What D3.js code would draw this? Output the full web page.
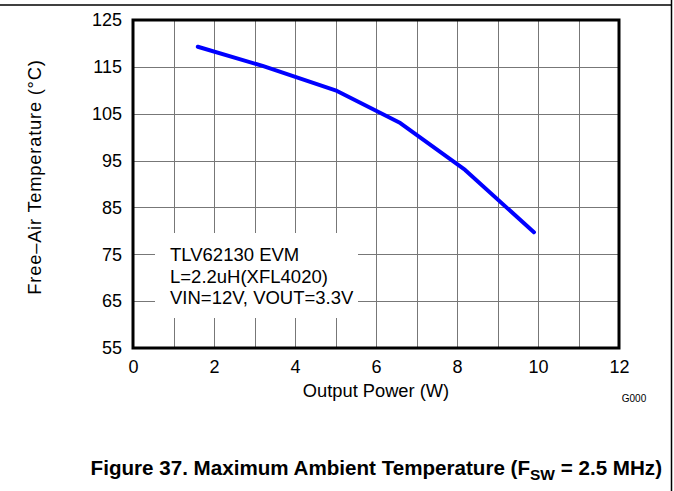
<!DOCTYPE html>
<html>
<head>
<meta charset="utf-8">
<script src="https://cdn.jsdelivr.net/npm/d3@7"></script>
<style>
  html, body { margin: 0; padding: 0; background: #fff; }
  svg { display: block; font-family: "Liberation Sans", Arial, sans-serif; }
</style>
</head>
<body>
<svg id="chart" width="674" height="491"></svg>
<script>
// Output power (W) vs. maximum free-air temperature (°C)
const powerW = [1.6, 3.2, 5.0, 6.6, 8.2, 9.9];
const tempC = [119.3, 115.2, 110.0, 103.0, 93.0, 79.7];
const xTicks = [0, 2, 4, 6, 8, 10, 12];
const yTicks = [55, 65, 75, 85, 95, 105, 115, 125];
const legendLines = ["TLV62130 EVM", "L=2.2uH(XFL4020)", "VIN=12V, VOUT=3.3V"];

const svg = d3.select("#chart");
const W = 674, H = 491;
const m = { left: 133, right: 619, top: 20, bottom: 348 };

const x = d3.scaleLinear().domain([0, 12]).range([m.left, m.right]);
const y = d3.scaleLinear().domain([55, 125]).range([m.bottom, m.top]);

// page frame lines
svg.append("line").attr("x1", 0).attr("x2", 672).attr("y1", 5).attr("y2", 5)
  .attr("stroke", "#000").attr("stroke-width", 1.5);
svg.append("line").attr("x1", 671.5).attr("x2", 671.5).attr("y1", 0).attr("y2", H)
  .attr("stroke", "#000").attr("stroke-width", 1.5);

// grid
const grid = svg.append("g").attr("stroke", "#777").attr("stroke-width", 1);
d3.range(1, 12).forEach(v => {
  grid.append("line").attr("x1", Math.round(x(v)) + 0.5).attr("x2", Math.round(x(v)) + 0.5)
    .attr("y1", m.top).attr("y2", m.bottom);
});
d3.range(65, 125, 10).forEach(v => {
  grid.append("line").attr("y1", Math.round(y(v)) + 0.5).attr("y2", Math.round(y(v)) + 0.5)
    .attr("x1", m.left).attr("x2", m.right);
});

// axes (labels only; frame drawn separately)
const xAxis = d3.axisBottom(x).tickValues(xTicks).tickSize(0).tickPadding(12);
const gx = svg.append("g").attr("transform", `translate(0,${m.bottom})`).call(xAxis);
gx.select(".domain").remove();
gx.selectAll("text").attr("font-size", 18).attr("font-family", "Liberation Sans, Arial, sans-serif").attr("fill", "#000");

const yAxis = d3.axisLeft(y).tickValues(yTicks).tickSize(0).tickPadding(11);
const gy = svg.append("g").attr("transform", `translate(${m.left},0)`).call(yAxis);
gy.select(".domain").remove();
gy.selectAll("text").attr("font-size", 18).attr("font-family", "Liberation Sans, Arial, sans-serif").attr("fill", "#000");

// legend box
const lg = svg.append("g");
lg.append("rect").attr("x", 155).attr("y", 233).attr("width", 203).attr("height", 85).attr("fill", "#fff");
legendLines.forEach((t, i) => {
  lg.append("text").attr("x", 170).attr("y", 261 + i * 21.5)
    .attr("font-size", 18.5).attr("fill", "#000").text(t);
});

// data line
svg.append("path")
  .datum(powerW.map((p, i) => [p, tempC[i]]))
  .attr("fill", "none").attr("stroke", "#0000ff").attr("stroke-width", 4)
  .attr("stroke-linecap", "round").attr("stroke-linejoin", "round")
  .attr("d", d3.line().x(d => x(d[0])).y(d => y(d[1])));

// plot frame
svg.append("rect").attr("x", m.left).attr("y", m.top)
  .attr("width", m.right - m.left).attr("height", m.bottom - m.top)
  .attr("fill", "none").attr("stroke", "#000").attr("stroke-width", 3);

// axis titles
svg.append("text").attr("x", (m.left + m.right) / 2).attr("y", 397)
  .attr("text-anchor", "middle").attr("font-size", 18.3).text("Output Power (W)");
svg.append("text")
  .attr("transform", `translate(41,177) rotate(-90)`)
  .attr("text-anchor", "middle").attr("font-size", 18.3).attr("letter-spacing", 0.8)
  .text("Free–Air Temperature (°C)");
svg.append("text").attr("x", 634).attr("y", 402).attr("text-anchor", "middle")
  .attr("font-size", 10).text("G000");

// caption
const cap = svg.append("text").attr("x", 662).attr("y", 475).attr("text-anchor", "end")
  .attr("font-size", 20.6).attr("font-weight", "bold");
cap.append("tspan").text("Figure 37. Maximum Ambient Temperature (F");
cap.append("tspan").attr("dy", 5).attr("font-size", 15.5).text("SW");
cap.append("tspan").attr("dy", -5).text(" = 2.5 MHz)");
</script>
</body>
</html>
